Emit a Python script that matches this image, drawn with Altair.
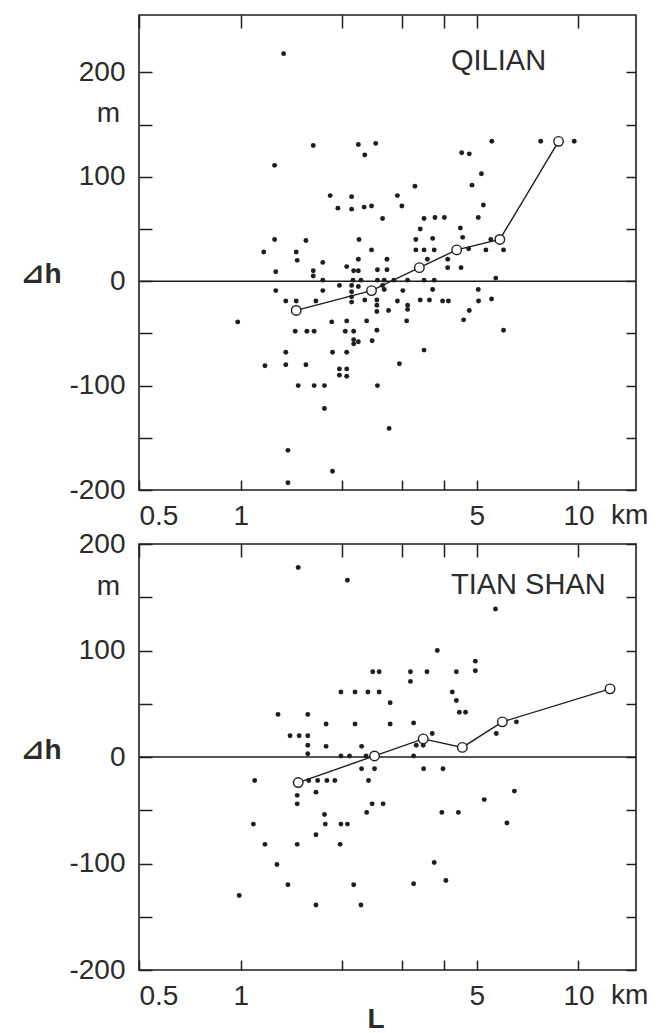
import altair as alt
import pandas as pd

# ---------------- data ----------------
qilian_L = [1.34, 1.64, 2.23, 2.51, 2.33, 1.26, 4.51, 4.75, 5.54, 7.73, 9.71, 5.16, 4.84, 3.28,
            1.84, 2.13, 2.91, 1.94, 2.13, 2.32, 2.44, 3.00, 5.23, 2.63, 3.49, 3.76, 4.01, 5.05,
            3.40, 4.47, 1.26, 1.56, 2.24, 3.30, 3.70, 4.54, 5.50, 1.17, 1.46, 2.44, 3.30, 3.49,
            3.74, 4.73, 5.32, 6.00,
            1.47, 1.75, 2.23, 2.71, 3.57, 4.10, 1.27, 1.64, 1.64, 2.06, 2.16, 2.23, 2.54, 2.71,
            4.10, 4.49, 5.69,
            1.75, 2.15, 2.27, 2.54, 2.66, 2.84, 3.12, 3.49, 3.74,
            1.96, 2.13, 2.23, 2.63,
            1.27, 1.75, 2.13, 2.66, 3.02, 3.70, 5.05, 2.13,
            1.36, 1.46, 1.67, 2.13, 2.33, 2.53, 2.91, 3.12, 3.40, 3.62, 3.96, 4.12, 5.06, 5.53,
            2.53, 2.53, 2.74, 3.12, 4.75,
            0.98, 1.86, 2.06, 2.36, 3.10, 4.57, 6.00,
            1.45, 1.57, 1.65, 2.04, 2.16, 2.53,
            2.16, 2.23, 2.16, 2.45, 3.49, 1.36, 1.36, 1.87, 2.06, 1.18, 1.56, 2.95,
            1.96, 1.96, 2.06, 2.06, 1.48, 1.65, 1.77, 2.54, 1.77, 2.75, 1.38, 1.87, 1.38]
qilian_dh = [218, 130, 131, 132, 121, 111, 123, 122, 134, 134, 134, 103, 92, 91,
             82, 81, 82, 70, 69, 71, 72, 72, 73, 60, 60, 61, 61, 61,
             50, 51, 40, 39, 40, 40, 41, 42, 40, 28, 28, 30, 30, 30,
             30, 31, 30, 30,
             20, 18, 21, 21, 21, 21, 9, 10, 5, 14, 10, 10, 11, 11,
             13, 13, 3,
             1, 1, 1, 1, 1, 1, 1, 1, 1,
             -4, -4, -5, -4,
             -9, -9, -10, -8, -9, -8, -8, -15,
             -19, -19, -19, -20, -18, -18, -19, -23, -18, -18, -19, -19, -19, -17,
             -23, -29, -28, -27, -28,
             -39, -39, -38, -38, -38, -37, -47,
             -48, -48, -48, -48, -48, -47,
             -56, -58, -60, -57, -66, -68, -80, -68, -68, -81, -80, -79,
             -84, -90, -84, -91, -100, -100, -100, -100, -122, -141, -162, -182, -193]
qilian_mean_L = [1.46, 2.44, 3.38, 4.36, 5.85, 8.73]
qilian_mean_dh = [-28, -9, 13, 30, 40, 134]

tianshan_L = [1.48, 2.07, 5.68, 3.82, 4.95, 4.95, 2.46, 2.57, 3.18, 3.56, 4.35, 3.18,
              1.98, 2.18, 2.38, 2.57, 4.23, 2.77, 4.35, 4.44, 4.63, 1.29, 1.58,
              1.79, 2.18, 2.77, 3.25, 6.55,
              1.40, 1.49, 1.58, 3.69, 3.31, 3.47, 1.58, 1.58, 1.79, 2.28, 5.71,
              1.98, 2.10, 2.35, 3.25,
              2.28, 2.49, 3.48, 3.97,
              1.10, 1.59, 1.69, 1.80, 1.90, 2.39,
              1.47, 1.47, 1.67, 2.45, 2.64, 5.26, 6.46,
              1.09, 1.77, 1.78, 1.98, 2.07, 2.36, 3.94, 4.41, 6.14,
              1.67, 1.18, 1.47, 1.97, 1.28, 3.74, 1.38, 2.16, 3.25, 4.05, 0.99, 1.67, 2.27,
              12.4]
tianshan_dh = [178, 166, 139, 100, 90, 81, 80, 80, 80, 80, 80, 71,
               61, 61, 61, 61, 61, 51, 53, 42, 42, 40, 40,
               31, 31, 31, 32, 33,
               20, 20, 20, 22, 11, 11, 11, 3, 10, 10, 22,
               1, 1, 1, 1,
               -11, -11, -11, -11,
               -22, -22, -22, -22, -22, -22,
               -36, -44, -33, -44, -44, -40, -32,
               -63, -54, -63, -63, -63, -52, -52, -52, -62,
               -73, -82, -82, -82, -101, -99, -120, -120, -119, -116, -130, -139, -139,
               64]
tianshan_mean_L = [1.48, 2.49, 3.47, 4.53, 5.95, 12.4]
tianshan_mean_dh = [-24, 1, 17, 9, 33, 64]

x_tick_values = [0.5, 1, 2, 3, 4, 5, 10]
x_label_values = [0.5, 1, 5, 10]
y_tick_values = [-200, -150, -100, -50, 0, 50, 100, 150, 200]

# ---------------- styling ----------------
FONT = "Liberation Sans, Arial, Helvetica, sans-serif"
BOLD_FONT = "Liberation Sans, DejaVu Sans, Noto Sans CJK JP, sans-serif"
TXT = "#2b2b2b"
INK = "#1e1e1e"
W = 497
X_DOMAIN = [0.5, 14.8]

x_label_expr = "(" + " || ".join(f"datum.value == {v}" for v in x_label_values) + ") ? '' + datum.value : ''"
y_label_expr = "datum.value % 100 == 0 ? '' + datum.value : ''"


def panel(name, L, dh, mL, mdh, ydom, height, label_y, show_L):
    pts = pd.DataFrame({"L": L, "dh": dh})
    means = pd.DataFrame({"L": mL, "dh": mdh})
    xs = alt.Scale(type="log", domain=X_DOMAIN, nice=False)
    ys = alt.Scale(domain=ydom, nice=False, zero=False)

    def ypx(v):
        return (ydom[1] - v) / (ydom[1] - ydom[0]) * height

    ax_bottom = alt.Axis(orient="bottom", values=x_tick_values, labelExpr=x_label_expr,
                         offset=-10, tickSize=10, tickWidth=1.5, tickColor=INK,
                         domain=False, grid=False, title=None, labelFont=FONT,
                         labelFontSize=28, labelColor=TXT, labelPadding=12,
                         labelFlush=True, labelOverlap=False)
    ax_top = alt.Axis(orient="top", values=x_tick_values, labels=False, offset=-13,
                      tickSize=13, tickWidth=1.5, tickColor=INK, domain=False,
                      grid=False, title=None)
    ax_left = alt.Axis(orient="left", values=y_tick_values, labelExpr=y_label_expr,
                       offset=-13, tickSize=13, tickWidth=1.5, tickColor=INK,
                       domain=False, grid=False, title=None, labelFont=FONT,
                       labelFontSize=28, labelColor=TXT, labelPadding=14,
                       labelOverlap=False)
    ax_right = alt.Axis(orient="right", values=y_tick_values, labels=False, offset=-10,
                        tickSize=10, tickWidth=1.5, tickColor=INK, domain=False,
                        grid=False, title=None)

    one = pd.DataFrame({"t": [name]})

    zero = alt.Chart(one).mark_rule(color=INK, strokeWidth=1.5).encode(
        y=alt.Y(datum=0, type="quantitative", scale=ys, axis=None))
    dots = alt.Chart(pts).mark_circle(size=24, color=INK, opacity=1).encode(
        x=alt.X("L:Q", scale=xs, axis=ax_bottom),
        y=alt.Y("dh:Q", scale=ys, axis=ax_left))
    line = alt.Chart(means).mark_line(color=INK, strokeWidth=1.4).encode(
        x=alt.X("L:Q", scale=xs, axis=ax_top),
        y=alt.Y("dh:Q", scale=ys, axis=ax_right))
    circ = alt.Chart(means).mark_point(shape="circle", size=90, filled=True, fill="white",
                                       stroke=INK, strokeWidth=1.4, opacity=1).encode(
        x=alt.X("L:Q", scale=xs, axis=None),
        y=alt.Y("dh:Q", scale=ys, axis=None))
    lab = alt.Chart(one).mark_text(align="left", baseline="alphabetic", font=FONT,
                                   fontSize=29, color=TXT).encode(
        x=alt.value(312), y=alt.value(label_y), text="t:N")
    m_txt = alt.Chart(pd.DataFrame({"t": ["m"]})).mark_text(
        align="right", baseline="middle", font=FONT, fontSize=28, color=TXT).encode(
        x=alt.value(-19), y=alt.value(ypx(160)), text="t:N")
    dh_txt = alt.Chart(pd.DataFrame({"t": ["⊿h"]})).mark_text(
        align="left", baseline="middle", font=BOLD_FONT, fontSize=28, fontWeight="bold",
        color=TXT).encode(x=alt.value(-118), y=alt.value(ypx(6)), text="t:N")
    km_txt = alt.Chart(pd.DataFrame({"t": ["km"]})).mark_text(
        align="left", baseline="top", font=FONT, fontSize=28, color=TXT).encode(
        x=alt.value(472), y=alt.value(height + 12), text="t:N")

    layers = [zero, dots, line, circ, lab, m_txt, dh_txt, km_txt]
    if show_L:
        L_txt = alt.Chart(pd.DataFrame({"t": ["L"]})).mark_text(
            align="center", baseline="alphabetic", font=BOLD_FONT, fontSize=28,
            fontWeight="bold", color=TXT).encode(
            x=alt.value(237), y=alt.value(height + 58), text="t:N")
        layers.append(L_txt)
    return alt.layer(*layers).resolve_axis(x="independent", y="independent").properties(
        width=W, height=height)


top = panel("QILIAN", qilian_L, qilian_dh, qilian_mean_L, qilian_mean_dh,
            [-200, 255], 475, 55, False)
bottom = panel("TIAN SHAN", tianshan_L, tianshan_dh, tianshan_mean_L, tianshan_mean_dh,
               [-200, 200], 426, 50, True)

chart = alt.vconcat(top, bottom, spacing=54, bounds="flush").properties(
    padding={"left": 12, "top": 5, "right": 5, "bottom": 0},
    background="white",
).configure_view(stroke=INK, strokeWidth=1.6)

chart.save("out.html", embed_options={"renderer": "svg", "actions": False})
